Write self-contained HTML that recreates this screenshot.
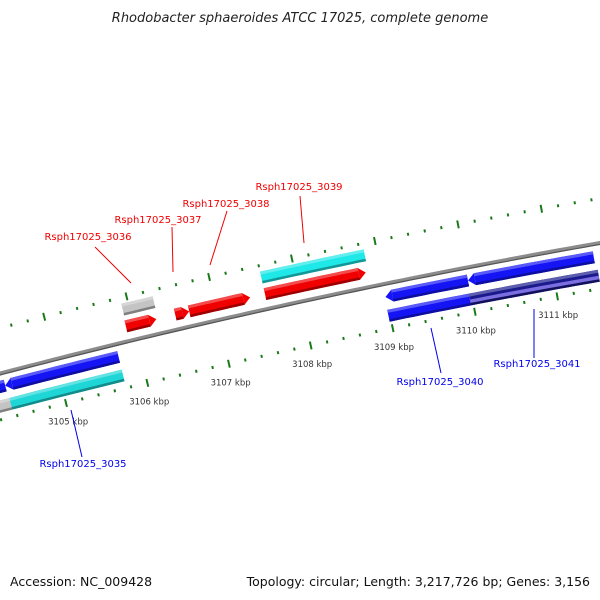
<!DOCTYPE html>
<html><head><meta charset="utf-8"><style>
body{margin:0;background:#fff}
svg{display:block;font-family:"DejaVu Sans","Liberation Sans",sans-serif}
</style></head><body>
<svg id="c" width="600" height="600" viewBox="0 0 600 600">
<text x="300" y="22" text-anchor="middle" font-size="13" font-style="italic" fill="#222">Rhodobacter sphaeroides ATCC 17025, complete genome</text>
<g id="track"></g>
<g id="labels"></g>
<text x="10" y="586" font-size="12.5" fill="#111">Accession: NC_009428</text>
<text x="590" y="586" text-anchor="end" font-size="12.5" fill="#111">Topology: circular; Length: 3,217,726 bp; Genes: 3,156</text>
</svg>
<script>
const geneNames=["Rsph17025_3035","Rsph17025_3035","Rsph17025_3034","Rsph17025_3034b","Rsph17025_3036","Rsph17025_3036","Rsph17025_3037","Rsph17025_3038","Rsph17025_3039","Rsph17025_3039","Rsph17025_3040","Rsph17025_3040","Rsph17025_3041","Rsph17025_3041"];
const geneStart=[3104.35,3104.35,3103.5,3103.5,3105.92,3105.91,3106.51,3106.68,3107.60,3107.60,3108.99,3108.98,3109.99,3109.97];
const geneEnd=[3105.74,3105.74,3104.35,3104.36,3106.30,3106.28,3106.68,3107.42,3108.85,3108.82,3109.99,3109.97,3111.51,3111.53];
const geneRow=[2,3,2,3,0,1,1,1,0,1,2,3,2,3];
const geneArrow=[-1,0,0,0,0,1,1,1,0,1,-1,0,-1,0];
const geneColor=["#1414f5","#1fd6d6","#1414f5","#c4c4c4","#c4c4c4","#f00000","#f00000","#f00000","#1fe8e8","#f00000","#1414f5","#1414f5","#1414f5","#1a1a8c"];
const tickStart=3103.0, tickEnd=3112.6;
const kbpLabels=[3105,3106,3107,3108,3109,3110,3111];
const ns="http://www.w3.org/2000/svg";
const D=Math.PI/180, TH0=14.2*D, RATE=0.65*D, PX=83.8, R=PX/RATE;
const P0=[66,403];
const CC=[P0[0]+R*Math.sin(TH0), P0[1]+R*Math.cos(TH0)];
function P(k,t){const th=TH0-RATE*(k-3105);const r=R-t;return [CC[0]-r*Math.sin(th), CC[1]-r*Math.cos(th)];}
const rowTop=[-83,-66,-38,-19], rowH=12;
const track=document.getElementById('track');
function mk(tag,attrs,parent){const e=document.createElementNS(ns,tag);for(const k in attrs)e.setAttribute(k,attrs[k]);parent.appendChild(e);return e;}
function band(k0,k1,t0,t1){const pts=[];const n=Math.max(2,Math.ceil((k1-k0)*10));
 for(let i=0;i<=n;i++){pts.push(P(k0+(k1-k0)*i/n,t0));}
 for(let i=n;i>=0;i--){pts.push(P(k0+(k1-k0)*i/n,t1));}
 return pts.map(p=>p[0].toFixed(1)+','+p[1].toFixed(1)).join(' ');}
// backbone
let bb=mk('polygon',{points:band(3102.5,3112.8,-47,-43),fill:'#8c8c8c'},track);


mk('polygon',{points:band(3102.5,3112.8,-44.2,-43),fill:'#555'},track);
// ticks
[0,-89].forEach(ty=>{
 for(let i=0;;i++){const k=+(tickStart+i*0.2).toFixed(1);if(k>tickEnd)break;
  const major=Math.abs(k-Math.round(k))<1e-6;const h=major?4:1.5;
  const a=P(k,ty-h),b=P(k,ty+h);
  const t=mk('line',{x1:a[0],y1:a[1],x2:b[0],y2:b[1],stroke:'#1a7a1a','stroke-width':2},track);
  
  
 }
});
function shade(c,f){const n=parseInt(c.slice(1),16);let r=n>>16,g=(n>>8)&255,b=n&255;
 if(f>0){r+=(255-r)*f;g+=(255-g)*f;b+=(255-b)*f;}else{r*=1+f;g*=1+f;b*=1+f;}
 return `rgb(${r|0},${g|0},${b|0})`;}
geneStart.forEach((s,i)=>{
 const e=geneEnd[i],y0=rowTop[geneRow[i]],y1=y0+rowH,ym=y0+rowH/2;
 const ah=Math.min(7,(e-s)*PX*0.6)/PX;
 let b0=s,b1=e;
 if(geneArrow[i]==1)b1=e-ah; if(geneArrow[i]==-1)b0=s+ah;
 const g=mk('g',{},track);
 
 
 const col=geneColor[i];
 mk('polygon',{points:band(b0,b1,y0,y1),fill:col},g);
 if(geneArrow[i]!=0){const tip=geneArrow[i]==1?P(e,ym):P(s,ym);const base=geneArrow[i]==1?b1:b0;
  const a=P(base,y0),c=P(base,y1);
  mk('polygon',{points:`${a[0]},${a[1]} ${tip[0]},${tip[1]} ${c[0]},${c[1]}`,fill:col},g);}
 if(i===13){mk('polygon',{points:band(b0,b1,ym,y1),fill:'#7b6ee0'},g);}
 mk('polygon',{points:band(b0,b1,y0,y0+3),fill:shade(col,0.3)},g);
 mk('polygon',{points:band(b0,b1,y1-2.5,y1),fill:shade(col,-0.35)},g);
});
const labels=document.getElementById('labels');
kbpLabels.forEach(k=>{const [gx,gy]=P(k-0.03,18.5);
 const t=mk('text',{x:gx,y:gy+3,'text-anchor':'middle','font-size':8.5,fill:'#333'},labels);
 t.textContent=k+' kbp';
 
 
});
const ann=[["Rsph17025_3035","#0000ee",83,467,82,457,71,410],["Rsph17025_3036","#f00000",88,240,95,247,131,283],["Rsph17025_3037","#f00000",158,223,172,227,173,272],["Rsph17025_3038","#f00000",226,207,227,211,210,265],["Rsph17025_3039","#f00000",299,190,300,196,304,243],["Rsph17025_3040","#0000ee",440,385,441,373,431,328],["Rsph17025_3041","#0000ee",537,367,534,358,534,309]];
ann.forEach(a=>{
 const l=mk('line',{x1:a[4],y1:a[5],x2:a[6],y2:a[7],stroke:a[1],'stroke-width':1},labels);
 
 
 const t=mk('text',{x:a[2],y:a[3],'text-anchor':'middle','font-size':10,fill:a[1]},labels);
 t.textContent=a[0];
 
 
});
</script>
</body></html>
